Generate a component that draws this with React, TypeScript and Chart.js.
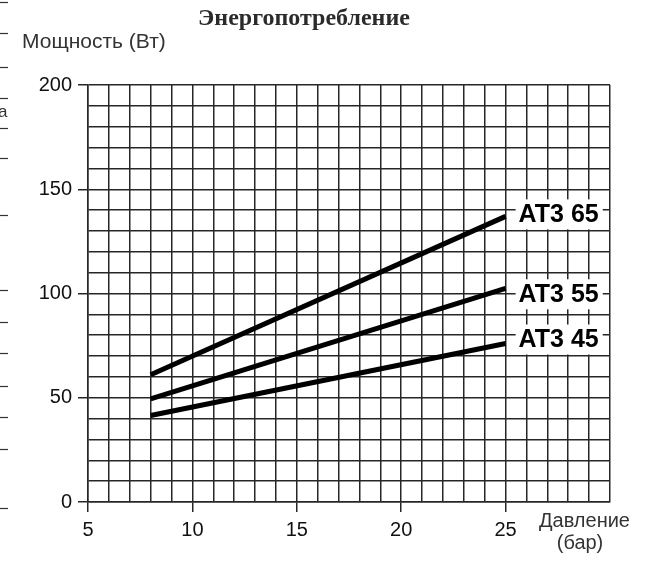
import React, { useEffect, useRef } from "react";
import { Chart, registerables } from "chart.js";

Chart.register(...registerables);

// ---- data ----
const pressure = [8, 25];
const at365 = [61, 137];
const at355 = [49.5, 102.5];
const at345 = [41.5, 76];
const seriesNames = ["AT3 65", "AT3 55", "AT3 45"];
const xTickLabels = [5, 10, 15, 20, 25];
const yTickLabels = [0, 50, 100, 150, 200];
const titleText = "Энергопотребление";
const yTitle = "Мощность (Вт)";
const xTitle1 = "Давление";
const xTitle2 = "(бар)";

const GRID = "#262626";
const FONT = "'Liberation Sans', Arial, sans-serif";

// small marks at the left edge of the scan
const edgeMarks = [2, 33, 67, 98, 128, 158, 215, 290, 322, 353, 386, 417, 449, 508];

const labelNudge = [-2, 6, -4];

const decorPlugin = {
  id: "decor",
  beforeDraw(chart: any) {
    const ctx = chart.ctx;
    ctx.save();
    ctx.fillStyle = "#fff";
    ctx.fillRect(0, 0, chart.width, chart.height);
    ctx.strokeStyle = "#333";
    ctx.lineWidth = 1.2;
    edgeMarks.forEach((y) => {
      ctx.beginPath();
      ctx.moveTo(0, y + 0.5);
      ctx.lineTo(8, y + 0.5);
      ctx.stroke();
    });
    ctx.fillStyle = "#333";
    ctx.font = `17px ${FONT}`;
    ctx.textBaseline = "alphabetic";
    ctx.textAlign = "left";
    ctx.fillText("a", -2, 117);
    ctx.restore();
  },
  afterDraw(chart: any) {
    const ctx = chart.ctx;
    const area = chart.chartArea;
    ctx.save();
    // title
    ctx.fillStyle = "#2b2b2b";
    ctx.font = `bold 24px 'Liberation Serif', 'Times New Roman', serif`;
    ctx.textAlign = "center";
    ctx.textBaseline = "alphabetic";
    ctx.fillText(titleText, 304, 25);
    // y title
    ctx.font = `21px ${FONT}`;
    ctx.fillStyle = "#333";
    ctx.textAlign = "left";
    ctx.fillText(yTitle, 22, 48);
    // x title
    ctx.font = `20px ${FONT}`;
    ctx.fillText(xTitle1, area.right - 71, area.bottom + 25);
    ctx.textAlign = "center";
    ctx.fillText(xTitle2, area.right - 30, area.bottom + 47);
    // series labels
    ctx.font = `bold 25px ${FONT}`;
    ctx.textAlign = "left";
    ctx.textBaseline = "middle";
    chart.data.datasets.forEach((ds: any, i: number) => {
      const meta = chart.getDatasetMeta(i);
      const last = meta.data[meta.data.length - 1];
      const x = last.x + 13;
      const y = last.y + labelNudge[i];
      const w = ctx.measureText(ds.label).width;
      ctx.fillStyle = "#fff";
      ctx.fillRect(x - 3, y - 15, w + 7, 30);
      ctx.fillStyle = "#000";
      ctx.fillText(ds.label, x, y + 1);
    });
    ctx.restore();
  },
};

export default function App() {
  const ref = useRef<HTMLCanvasElement>(null);
  useEffect(() => {
    const mk = (vals: number[]) => pressure.map((x, i) => ({ x, y: vals[i] }));
    const lineStyle = {
      borderColor: "#000",
      borderWidth: 5,
      pointRadius: 0,
      borderCapStyle: "butt" as const,
      fill: false,
      tension: 0,
    };
    const chart = new Chart(ref.current!, {
      type: "line",
      data: {
        datasets: [
          { label: seriesNames[0], data: mk(at365), ...lineStyle },
          { label: seriesNames[1], data: mk(at355), ...lineStyle },
          { label: seriesNames[2], data: mk(at345), ...lineStyle },
        ],
      },
      options: {
        responsive: false,
        animation: false,
        layout: { padding: { top: 85, right: 37, left: 0, bottom: 0 } },
        plugins: { legend: { display: false }, title: { display: false }, tooltip: { enabled: false } },
        scales: {
          x: {
            type: "linear",
            min: 5,
            max: 30,
            afterFit: (s: any) => {
              s.height = 60;
            },
            border: { display: true, color: GRID, width: 1.5 },
            grid: {
              color: GRID,
              lineWidth: 1.5,
              drawTicks: true,
              tickLength: 10,
              tickColor: (c: any) =>
                c.tick && xTickLabels.includes(c.tick.value) ? GRID : "rgba(0,0,0,0)",
            },
            ticks: {
              stepSize: 1,
              autoSkip: false,
              maxRotation: 0,
              padding: 6,
              color: "#111",
              font: { size: 20, family: FONT },
              callback: (v: any) => (xTickLabels.includes(v) ? String(v) : ""),
            },
          },
          y: {
            type: "linear",
            min: 0,
            max: 200,
            afterFit: (s: any) => {
              s.width = 88;
            },
            border: { display: true, color: GRID, width: 1.5 },
            grid: {
              color: GRID,
              lineWidth: 1.5,
              drawTicks: true,
              tickLength: 10,
              tickColor: (c: any) =>
                c.tick && yTickLabels.includes(c.tick.value) ? GRID : "rgba(0,0,0,0)",
            },
            ticks: {
              stepSize: 10,
              autoSkip: false,
              padding: 6,
              color: "#111",
              font: { size: 20, family: FONT },
              callback: (v: any) => (yTickLabels.includes(v) ? String(v) : ""),
            },
          },
        },
      },
      plugins: [decorPlugin],
    });
    return () => chart.destroy();
  }, []);
  return (
    <div style={{ position: "fixed", left: 0, top: 0, width: 647, height: 562, background: "#fff" }}>
      <canvas ref={ref} width={647} height={562} style={{ display: "block" }} />
    </div>
  );
}
